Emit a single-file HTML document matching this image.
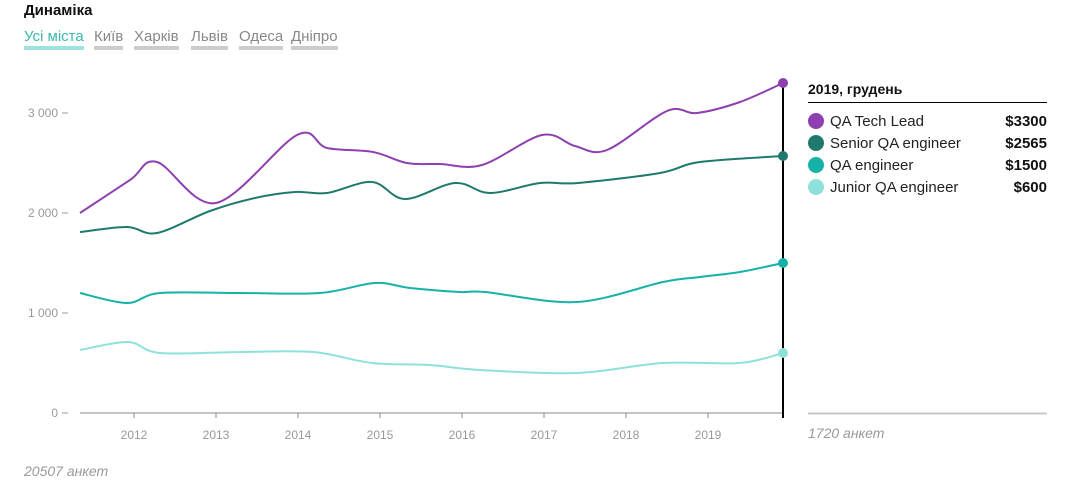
<!DOCTYPE html>
<html><head><meta charset="utf-8">
<style>
html,body{margin:0;padding:0;background:#fff;}
body{width:1073px;height:499px;position:relative;overflow:hidden;font-family:"Liberation Sans",sans-serif;}
.t{position:absolute;white-space:nowrap;}
.title{left:24px;top:2px;font-size:15px;font-weight:bold;color:#111;}
.tab{top:28px;font-size:15px;color:#888;padding-bottom:1px;border-bottom:4px solid #ccc;line-height:17px;}
.tab.a{color:#3bb8ad;border-bottom-color:#9ee3dd;}
</style></head><body>
<div class="t title">Динаміка</div>
<div class="t tab a" style="left:24px">Усі міста</div>
<div class="t tab" style="left:94px">Київ</div>
<div class="t tab" style="left:134px">Харків</div>
<div class="t tab" style="left:191px">Львів</div>
<div class="t tab" style="left:239px">Одеса</div>
<div class="t tab" style="left:291px">Дніпро</div>

<svg width="1073" height="499" style="position:absolute;left:0;top:0" font-family="Liberation Sans, sans-serif">
  <g fill="#999" font-size="12" text-anchor="end">
    <text x="58" y="117">3 000</text>
    <text x="58" y="217">2 000</text>
    <text x="58" y="317">1 000</text>
    <text x="58" y="417">0</text>
  </g>
  <g stroke="#999" stroke-width="1">
    <line x1="62" y1="113" x2="68" y2="113"/>
    <line x1="62" y1="213" x2="68" y2="213"/>
    <line x1="62" y1="313" x2="68" y2="313"/>
    <line x1="62" y1="413" x2="68" y2="413"/>
  </g>
  <line x1="80" y1="413" x2="783" y2="413" stroke="#888" stroke-width="1"/>
  <g stroke="#888" stroke-width="1">
    <line x1="134" y1="413" x2="134" y2="418"/>
    <line x1="216" y1="413" x2="216" y2="418"/>
    <line x1="298" y1="413" x2="298" y2="418"/>
    <line x1="380" y1="413" x2="380" y2="418"/>
    <line x1="462" y1="413" x2="462" y2="418"/>
    <line x1="544" y1="413" x2="544" y2="418"/>
    <line x1="626" y1="413" x2="626" y2="418"/>
    <line x1="708" y1="413" x2="708" y2="418"/>
  </g>
  <g fill="#999" font-size="12" text-anchor="middle">
    <text x="134" y="439">2012</text>
    <text x="216" y="439">2013</text>
    <text x="298" y="439">2014</text>
    <text x="380" y="439">2015</text>
    <text x="462" y="439">2016</text>
    <text x="544" y="439">2017</text>
    <text x="626" y="439">2018</text>
    <text x="708" y="439">2019</text>
  </g>
  <path id="p1" fill="none" stroke="#8e3fb0" stroke-width="2"/>
  <path id="p2" fill="none" stroke="#1f7a6d" stroke-width="2"/>
  <path id="p3" fill="none" stroke="#16b2a8" stroke-width="2"/>
  <path id="p4" fill="none" stroke="#8fe2db" stroke-width="2"/>
  <line x1="783" y1="83" x2="783" y2="418" stroke="#000" stroke-width="2"/>
  <circle cx="783" cy="83" r="5" fill="#8e3fb0"/>
  <circle cx="783" cy="156" r="5" fill="#1f7a6d"/>
  <circle cx="783" cy="263" r="5" fill="#16b2a8"/>
  <circle cx="783" cy="353" r="5" fill="#8fe2db"/>

  <text x="808" y="94" font-size="14" font-weight="bold" fill="#111">2019, грудень</text>
  <line x1="808" y1="102.5" x2="1047" y2="102.5" stroke="#000" stroke-width="1"/>
  <circle cx="816" cy="121" r="8" fill="#8e3fb0"/>
  <circle cx="816" cy="143" r="8" fill="#1f7a6d"/>
  <circle cx="816" cy="165" r="8" fill="#16b2a8"/>
  <circle cx="816" cy="187" r="8" fill="#8fe2db"/>
  <g font-size="15" fill="#222">
    <text x="830" y="126">QA Tech Lead</text>
    <text x="830" y="148">Senior QA engineer</text>
    <text x="830" y="170">QA engineer</text>
    <text x="830" y="192">Junior QA engineer</text>
  </g>
  <g font-size="15" font-weight="bold" fill="#111" text-anchor="end">
    <text x="1047" y="126">$3300</text>
    <text x="1047" y="148">$2565</text>
    <text x="1047" y="170">$1500</text>
    <text x="1047" y="192">$600</text>
  </g>
  <line x1="808" y1="413.5" x2="1047" y2="413.5" stroke="#c8c8c8" stroke-width="2"/>
  <text x="808" y="438" font-size="14" font-style="italic" fill="#999">1720 анкет</text>
  <text x="24" y="476" font-size="14" font-style="italic" fill="#999">20507 анкет</text>
</svg>
<script>
function cr(p){
  var d="M"+p[0][0]+","+p[0][1];
  for(var i=0;i<p.length-1;i++){
    var p0=p[i-1]||p[i],p1=p[i],p2=p[i+1],p3=p[i+2]||p[i+1];
    var c1x=p1[0]+(p2[0]-p0[0])/6,c1y=p1[1]+(p2[1]-p0[1])/6;
    var c2x=p2[0]-(p3[0]-p1[0])/6,c2y=p2[1]-(p3[1]-p1[1])/6;
    d+=" C"+c1x.toFixed(1)+","+c1y.toFixed(1)+" "+c2x.toFixed(1)+","+c2y.toFixed(1)+" "+p2[0]+","+p2[1];
  }
  return d;
}
var s1=[[80,213],[130,180],[157,162],[216,203],[297,135],[327,148],[373,152],[407,163],[440,164],[482,165],[542,135],[575,146],[607,150],[667,111],[697,113],[740,102],[783,83]];
var s2=[[80,232],[127,227],[157,233],[210,211],[255,198],[295,192],[327,193],[372,182],[405,199],[455,183],[490,193],[540,183],[578,183],[660,173],[700,162],[783,156]];
var s3=[[80,293],[127,303],[160,293],[240,293],[320,293],[375,283],[410,288],[460,292],[485,292],[577,302],[663,282],[700,277],[740,272],[783,263]];
var s4=[[80,350],[128,342],[160,353],[240,352],[313,352],[372,363],[430,365],[480,370],[577,373],[663,363],[740,363],[783,353]];
document.getElementById("p1").setAttribute("d",cr(s1));
document.getElementById("p2").setAttribute("d",cr(s2));
document.getElementById("p3").setAttribute("d",cr(s3));
document.getElementById("p4").setAttribute("d",cr(s4));
</script>
</body></html>
